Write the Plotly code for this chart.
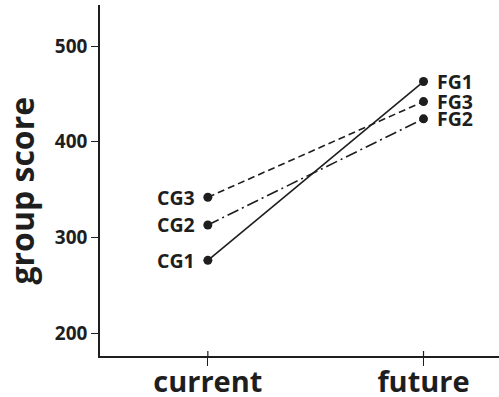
import plotly.graph_objects as go

periods = ["current", "future"]
group_names = ["G1", "G2", "G3"]
current_scores = [276, 313, 342]
future_scores = [463, 424, 442]
dash_styles = ["solid", "12px,4px,2px,4px", "7px,4px"]
y_title = "group score"

FONT = "Open Sans"
INK = "#1e1e1e"

fig = go.Figure()
for name, c, f, d in zip(group_names, current_scores, future_scores, dash_styles):
    fig.add_trace(go.Scatter(
        x=[0, 1], y=[c, f],
        mode="lines+markers",
        line=dict(color=INK, width=1.6, dash=d),
        marker=dict(color=INK, size=9),
        showlegend=False,
        cliponaxis=False,
    ))
    fig.add_annotation(x=0, y=c, text="C" + name, showarrow=False,
                       xanchor="right", yanchor="middle", xshift=-11,
                       font=dict(family=FONT, size=19.5, color=INK, weight="bold"))
    fig.add_annotation(x=1, y=f, text="F" + name, showarrow=False,
                       xanchor="left", yanchor="middle", xshift=11,
                       font=dict(family=FONT, size=19.5, color=INK, weight="bold"))

# upward half of the crossing x-axis ticks
for i in range(len(periods)):
    fig.add_shape(type="line", xref="x", yref="paper", x0=i, x1=i,
                  ysizemode="pixel", yanchor=0, y0=0, y1=5,
                  line=dict(color=INK, width=1.2))

fig.add_annotation(xref="paper", yref="paper", x=0, y=0.5, text=y_title,
                   showarrow=False, textangle=-90, xanchor="center", yanchor="middle",
                   xshift=-79, yshift=-10,
                   font=dict(family=FONT, size=32, color=INK, weight="bold"))

fig.update_layout(
    width=499, height=397,
    margin=dict(l=100, r=0, t=5, b=41),
    paper_bgcolor="white", plot_bgcolor="white",
    font=dict(family=FONT, color=INK),
)
fig.update_xaxes(
    range=[-0.5, 1.35], automargin=False,
    tickvals=list(range(len(periods))), ticktext=periods,
    tickfont=dict(family=FONT, size=29, color=INK, weight="bold"),
    showline=True, linecolor=INK, linewidth=1.5,
    ticks="outside", ticklen=8, tickwidth=1.2, tickcolor=INK,
    ticklabelstandoff=-9,
    showgrid=False, zeroline=False,
)
fig.update_yaxes(
    range=[176, 543], automargin=False,
    tickvals=[200, 300, 400, 500],
    tickfont=dict(family=FONT, size=19, color=INK, weight="bold"),
    showline=True, linecolor=INK, linewidth=1.5,
    ticks="outside", ticklen=7, tickwidth=1.2, tickcolor=INK,
    ticklabelstandoff=0,
    showgrid=False, zeroline=False,
)

fig.write_html("out.html", config={"displayModeBar": False},
               post_script="document.body.style.margin='0';")
